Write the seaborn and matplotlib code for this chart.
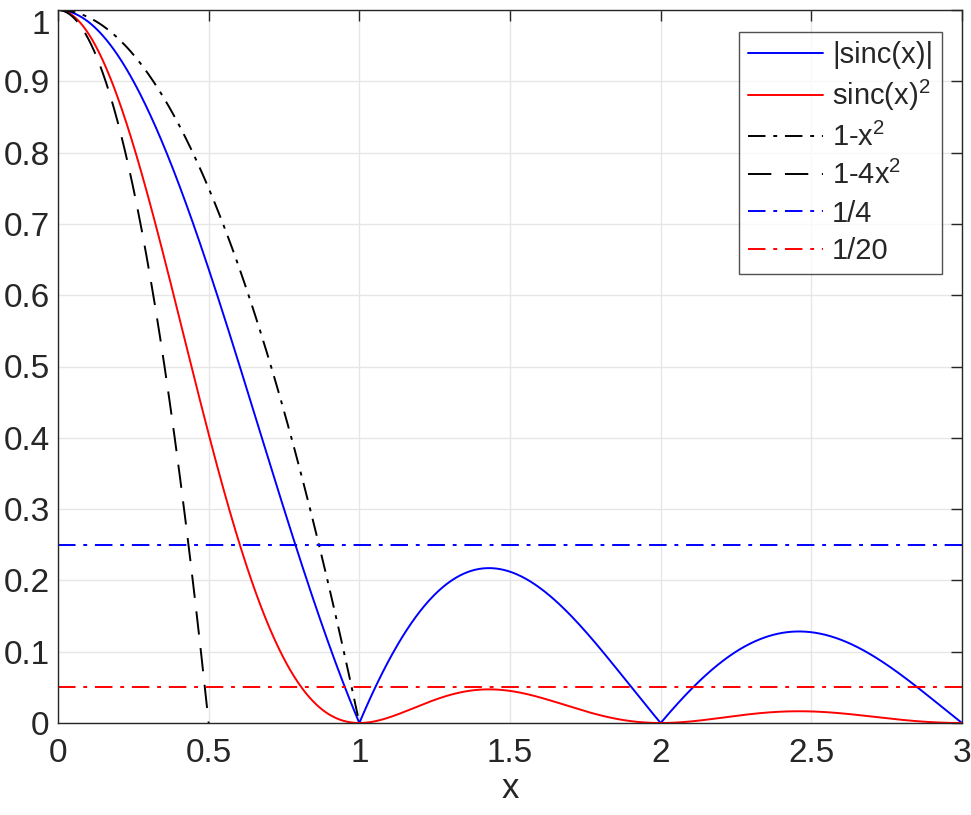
import numpy as np
import pandas as pd
import seaborn as sns
import matplotlib
matplotlib.use("Agg")
import matplotlib.pyplot as plt

# Data: curves defined by the legend formulas, sampled on x grids
x_full = np.linspace(0, 3, 1201)
x_q1 = np.linspace(0, 1, 401)
x_q2 = np.linspace(0, 0.5, 201)
abs_sinc = np.abs(np.sinc(x_full))
sinc_sq = np.sinc(x_full) ** 2
one_minus_x2 = 1 - x_q1 ** 2
one_minus_4x2 = 1 - 4 * x_q2 ** 2
level_quarter = [0.25, 0.25]
level_twentieth = [0.05, 0.05]
level_x = [0, 3]
labels = ["|sinc(x)|", "sinc(x)$^2$", "1-x$^2$", "1-4x$^2$", "1/4", "1/20"]
xticks = [0, 0.5, 1, 1.5, 2, 2.5, 3]
yticks = [0, 0.1, 0.2, 0.3, 0.4, 0.5, 0.6, 0.7, 0.8, 0.9, 1]

sns.set_style("white")
plt.rcParams['font.family'] = ['Liberation Sans', 'DejaVu Sans']
plt.rcParams['mathtext.fontset'] = 'custom'
plt.rcParams['mathtext.rm'] = 'Liberation Sans'
plt.rcParams['mathtext.it'] = 'Liberation Sans'

fig = plt.figure(figsize=(9.71, 8.15), dpi=100)
ax = fig.add_axes([58/971, 1 - 723/815, (962-58)/971, (723-10)/815])

lw = 1.4
sns.lineplot(x=x_full, y=abs_sinc, ax=ax, color="#0000ff", lw=lw, label=labels[0], estimator=None, sort=False)
sns.lineplot(x=x_full, y=sinc_sq, ax=ax, color="#ff0000", lw=lw, label=labels[1], estimator=None, sort=False)
sns.lineplot(x=x_q1, y=one_minus_x2, ax=ax, color="black", lw=lw, label=labels[2], estimator=None, sort=False)
ax.lines[-1].set_dashes([9, 4, 2, 4])
sns.lineplot(x=x_q2, y=one_minus_4x2, ax=ax, color="black", lw=lw, label=labels[3], estimator=None, sort=False)
ax.lines[-1].set_dashes([12, 7])
sns.lineplot(x=level_x, y=level_quarter, ax=ax, color="#0000ff", lw=lw, label=labels[4], estimator=None, sort=False)
ax.lines[-1].set_dashes([9, 4, 2, 4])
sns.lineplot(x=level_x, y=level_twentieth, ax=ax, color="#ff0000", lw=lw, label=labels[5], estimator=None, sort=False)
ax.lines[-1].set_dashes([9, 4, 2, 4])

ax.set_xlim(0, 3)
ax.set_ylim(0, 1)
ax.set_xticks(xticks)
ax.set_xticklabels([f"{t:g}" for t in xticks])
ax.set_yticks(yticks)
ax.set_yticklabels([f"{t:g}" for t in yticks])
ax.grid(True, color="#e6e6e6", lw=1)
ax.set_axisbelow(True)
for s in ax.spines.values():
    s.set_visible(True)
    s.set_color("#262626")
    s.set_linewidth(1)
ax.tick_params(direction="in", length=8, width=1, colors="#262626", labelsize=24,
               top=True, right=True)
ax.tick_params(axis="x", pad=11)
ax.tick_params(axis="y", pad=6)
ax.set_xlabel("x", fontsize=25, color="#262626", labelpad=2)
ax.set_ylabel("")
for lbl in ax.get_yticklabels():
    if lbl.get_text() == "1":
        lbl.set_va("top")

leg = ax.legend(loc="upper right", bbox_to_anchor=((942-58)/(962-58), (723-32)/(723-10)), fontsize=21,
                frameon=True, fancybox=False, handlelength=2.6, handletextpad=0.3,
                labelspacing=0.32, borderpad=0.3, borderaxespad=0)
leg.get_frame().set_edgecolor("#262626")
leg.get_frame().set_linewidth(1)

fig.savefig("out.png", dpi=100)
